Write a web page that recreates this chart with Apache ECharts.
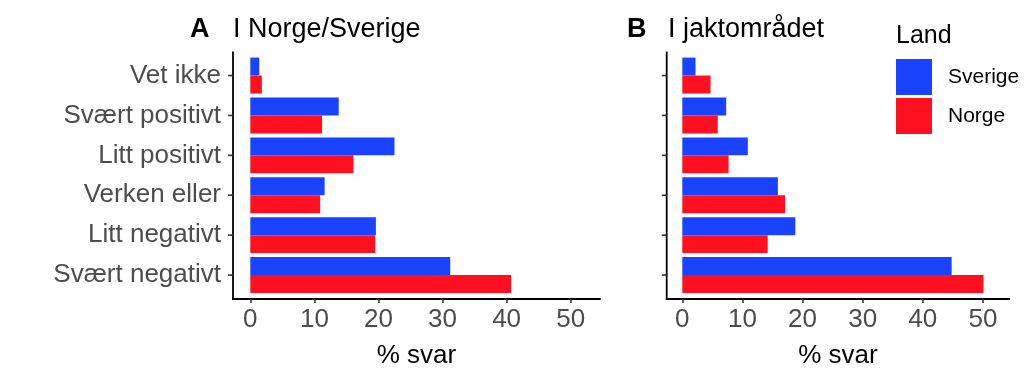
<!DOCTYPE html>
<html>
<head>
<meta charset="utf-8">
<script src="https://cdn.jsdelivr.net/npm/echarts@6/dist/echarts.min.js"></script>
<style>
html,body{margin:0;padding:0;background:#fff;}
#chart{width:1024px;height:383px;}
</style>
</head>
<body>
<div id="chart"></div>
<script>
var categories = ['Vet ikke', 'Svært positivt', 'Litt positivt', 'Verken eller', 'Litt negativt', 'Svært negativt'];
var seriesNames = ['Sverige', 'Norge'];
// Panel A: I Norge/Sverige
var sverigeA = [1.4, 13.8, 22.5, 11.6, 19.6, 31.2];
var norgeA = [1.8, 11.2, 16.1, 10.9, 19.5, 40.7];
// Panel B: I jaktområdet
var sverigeB = [2.2, 7.3, 10.9, 15.9, 18.8, 44.8];
var norgeB = [4.7, 5.9, 7.7, 17.1, 14.2, 50.1];
var xTicks = [0, 10, 20, 30, 40, 50];
var axisTitle = '% svar';
var panelTitles = ['I Norge/Sverige', 'I jaktområdet'];
var panelTags = ['A', 'B'];
var legendTitle = 'Land';

var FONT = '"Liberation Sans", Arial, Helvetica, sans-serif';
var BLUE = '#1A43FF', RED = '#FF1020';
var TXT = '#4D4D4D';

var panels = [
  {frameL: 233, frameR: 600, innerL: 250.3, innerR: 570.7, labels: true},
  {frameL: 666.7, frameR: 1009.3, innerL: 682.3, innerR: 982.9, labels: false}
];
var frameTop = 51.6, frameBottom = 299;
var nCat = categories.length;
var span = nCat + 0.2;
var band = (frameBottom - frameTop) / span;
var innerTop = frameTop + 0.1 * band, innerBottom = innerTop + nCat * band;
var xLo = xTicks[0], xHi = xTicks[xTicks.length - 1];
var catFrac = categories.map(function (c, i) { return 1 - (i + 0.6) / span; });

function nearest(arr, v) {
  var best = 0;
  for (var i = 1; i < arr.length; i++) if (Math.abs(arr[i] - v) < Math.abs(arr[best] - v)) best = i;
  return best;
}

var grids = [], xAxes = [], yAxes = [];
panels.forEach(function (p, k) {
  var scale = (p.innerR - p.innerL) / (xHi - xLo);
  var fMin = xLo + (p.frameL - p.innerL) / scale, fMax = xLo + (p.frameR - p.innerL) / scale;
  var tickFrac = xTicks.map(function (t) { return (t - fMin) / (fMax - fMin); });
  grids.push({left: p.frameL, width: p.frameR - p.frameL, top: frameTop, height: frameBottom - frameTop});
  grids.push({left: p.innerL, width: p.innerR - p.innerL, top: innerTop, height: innerBottom - innerTop});
  xAxes.push({
    type: 'value', gridIndex: 2 * k, min: 0, max: 1,
    axisLine: {show: true, lineStyle: {color: '#000', width: 1.8}},
    axisTick: {show: true, length: 4, customValues: tickFrac, lineStyle: {color: '#333', width: 1.6}},
    axisLabel: {show: true, margin: 8, customValues: tickFrac, color: TXT, fontSize: 26, fontFamily: FONT,
      formatter: function (v) { return String(xTicks[nearest(tickFrac, v)]); }},
    splitLine: {show: false},
    name: axisTitle, nameLocation: 'middle', nameGap: 44,
    nameTextStyle: {color: '#000', fontSize: 26, fontFamily: FONT}
  });
  yAxes.push({
    type: 'value', gridIndex: 2 * k, min: 0, max: 1,
    axisLine: {show: false},
    axisTick: {show: false},
    axisLabel: {show: p.labels, margin: 12, customValues: catFrac, color: TXT, fontSize: 26, fontFamily: FONT,
      formatter: function (v) { return categories[nearest(catFrac, v)]; }},
    splitLine: {show: false}
  });
  xAxes.push({type: 'value', gridIndex: 2 * k + 1, min: xLo, max: xHi, show: false});
  yAxes.push({type: 'category', gridIndex: 2 * k + 1, data: categories, inverse: true, show: false});
});

function bar(name, data, axisIdx, color) {
  return {
    type: 'bar', name: name, data: data,
    xAxisIndex: axisIdx, yAxisIndex: axisIdx,
    barCategoryGap: '10%', barGap: '0%', clip: false,
    itemStyle: {color: color}, emphasis: {disabled: true}
  };
}

// vertical axis lines and their ticks, drawn from the panel frame geometry
var axisGraphics = [];
panels.forEach(function (p) {
  axisGraphics.push({type: 'line', silent: true, z: 100, zlevel: 1,
    shape: {x1: p.frameL, y1: frameTop, x2: p.frameL, y2: frameBottom + 0.9},
    style: {stroke: '#000', lineWidth: 1.8}});
  categories.forEach(function (c, i) {
    var y = frameTop + (i + 0.6) * band;
    axisGraphics.push({type: 'line', silent: true, z: 100, zlevel: 1,
      shape: {x1: p.frameL - 4.9, y1: y, x2: p.frameL, y2: y},
      style: {stroke: '#333', lineWidth: 1.6}});
  });
});

var chart = echarts.init(document.getElementById('chart'), null, {renderer: 'canvas'});
chart.setOption({
  animation: false,
  backgroundColor: '#fff',
  title: [
    {text: panelTags[0], left: 185, top: 11, textStyle: {fontSize: 27, fontWeight: 'bold', color: '#000', fontFamily: FONT}},
    {text: panelTitles[0], left: 228, top: 11, textStyle: {fontSize: 27, fontWeight: 'normal', color: '#000', fontFamily: FONT}},
    {text: panelTags[1], left: 622, top: 11, textStyle: {fontSize: 27, fontWeight: 'bold', color: '#000', fontFamily: FONT}},
    {text: panelTitles[1], left: 663, top: 11, textStyle: {fontSize: 27, fontWeight: 'normal', color: '#000', fontFamily: FONT}},
    {text: legendTitle, left: 891, top: 19, textStyle: {fontSize: 25, fontWeight: 'normal', color: '#000', fontFamily: FONT}}
  ],
  legend: {
    data: seriesNames, orient: 'vertical', left: 896, top: 59, padding: 0,
    itemWidth: 36, itemHeight: 36, itemGap: 3, icon: 'rect',
    textStyle: {fontSize: 21, color: '#000', fontFamily: FONT, padding: [0, 0, 0, 11]}
  },
  grid: grids,
  xAxis: xAxes,
  yAxis: yAxes,
  graphic: axisGraphics,
  series: [
    bar(seriesNames[0], sverigeA, 1, BLUE),
    bar(seriesNames[1], norgeA, 1, RED),
    bar(seriesNames[0], sverigeB, 3, BLUE),
    bar(seriesNames[1], norgeB, 3, RED)
  ]
});
</script>
</body>
</html>
